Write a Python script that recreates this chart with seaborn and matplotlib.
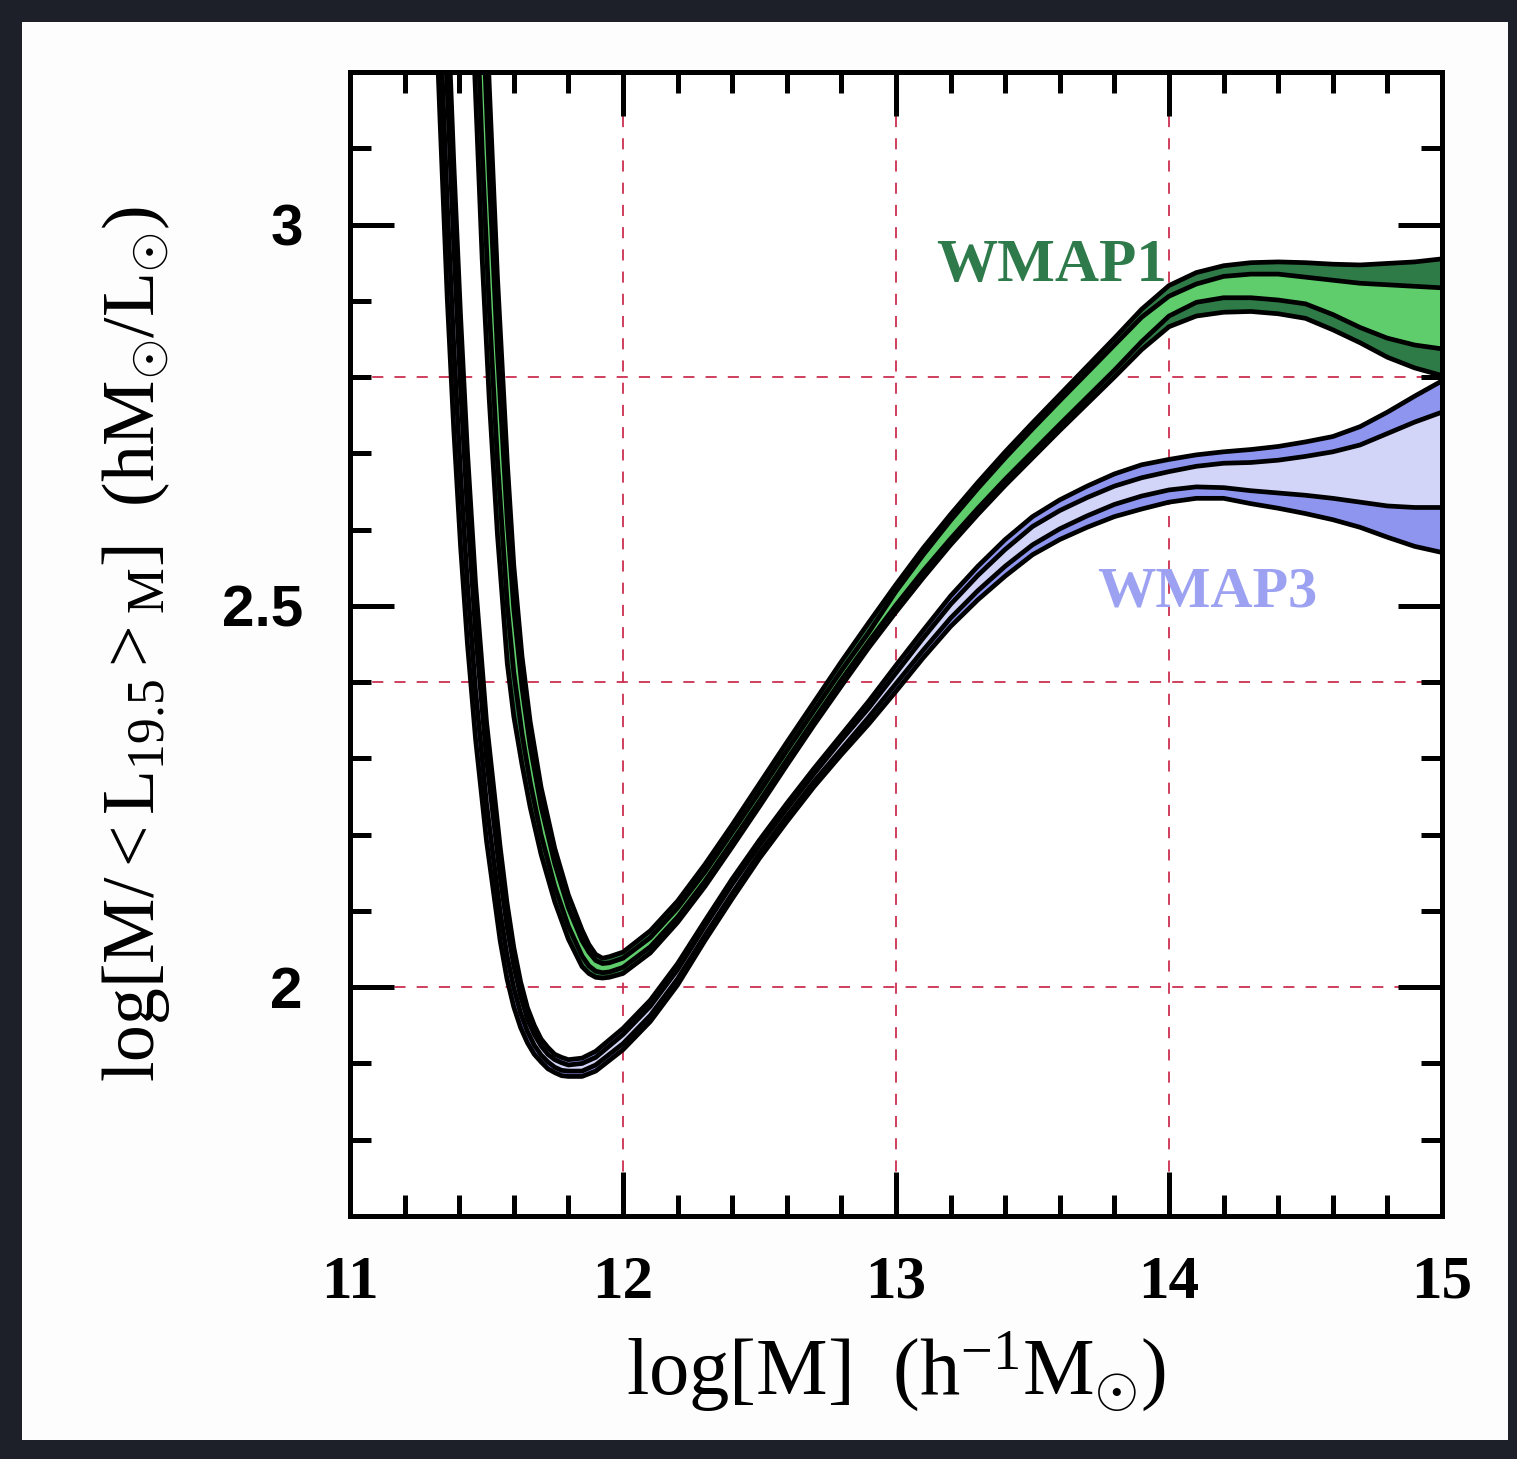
import numpy as np
import matplotlib
matplotlib.use("Agg")
import matplotlib.pyplot as plt
from matplotlib.patches import Rectangle
import seaborn as sns

# ---------------------------------------------------------------------------
# Mass-to-light ratio of haloes, log[M/<L_19.5>_M], versus halo mass log[M].
# Each cosmology has an outer (dark) and an inner (light) confidence band,
# given by four boundary curves sampled on a common mass grid.
# ---------------------------------------------------------------------------

# WMAP1 cosmology
wmap1_logm = [11.42, 11.45, 11.484, 11.51, 11.54, 11.576, 11.60, 11.63, 11.66,
              11.70, 11.75, 11.80, 11.85, 11.875, 11.90, 11.925, 11.95, 12.0,
              12.1, 12.2, 12.3, 12.4, 12.5, 12.6, 12.7, 12.8, 12.9, 13.0, 13.1,
              13.2, 13.3, 13.4, 13.5, 13.6, 13.7, 13.8, 13.9, 14.0, 14.1,
              14.2, 14.3, 14.4, 14.5, 14.6, 14.7, 14.8, 14.9, 15.0]
wmap1_outer_lo = [3.574, 3.259, 2.956, 2.771, 2.594, 2.425, 2.355, 2.292, 2.236,
                  2.174, 2.112, 2.063, 2.027, 2.018, 2.013, 2.012, 2.013, 2.018,
                  2.045, 2.085, 2.132, 2.184, 2.237, 2.291, 2.344, 2.395, 2.445, 2.492, 2.537,
                  2.580, 2.620, 2.658, 2.694, 2.730, 2.765, 2.800, 2.836, 2.866, 2.880,
                  2.885, 2.886, 2.883, 2.877, 2.862, 2.845, 2.826, 2.812, 2.802]
wmap1_inner_lo = [3.753, 3.422, 3.098, 2.890, 2.692, 2.502, 2.413, 2.333, 2.269,
                  2.200, 2.132, 2.080, 2.041, 2.028, 2.021, 2.019, 2.020, 2.026,
                  2.053, 2.092, 2.139, 2.191, 2.244, 2.298, 2.351, 2.403, 2.453, 2.501, 2.546,
                  2.588, 2.628, 2.666, 2.702, 2.738, 2.7735, 2.809, 2.8465, 2.880, 2.898,
                  2.904, 2.904, 2.901, 2.896, 2.882, 2.865, 2.851, 2.842, 2.837]
wmap1_inner_hi = [4.013, 3.658, 3.302, 3.064, 2.834, 2.612, 2.496, 2.393, 2.316,
                  2.237, 2.162, 2.104, 2.061, 2.046, 2.035, 2.031, 2.032, 2.038,
                  2.065, 2.104, 2.151, 2.203, 2.256, 2.310, 2.363, 2.415, 2.465, 2.519, 2.567,
                  2.612, 2.654, 2.694, 2.732, 2.769, 2.8055, 2.842, 2.8785, 2.906, 2.922,
                  2.932, 2.935, 2.935, 2.931, 2.927, 2.923, 2.921, 2.919, 2.917]
wmap1_outer_hi = [4.192, 3.821, 3.444, 3.183, 2.932, 2.689, 2.553, 2.434, 2.348,
                  2.262, 2.182, 2.121, 2.075, 2.056, 2.043, 2.038, 2.040, 2.046,
                  2.074, 2.113, 2.161, 2.213, 2.267, 2.321, 2.374, 2.427, 2.478, 2.528, 2.576,
                  2.620, 2.662, 2.702, 2.740, 2.777, 2.814, 2.851, 2.889, 2.920, 2.937,
                  2.946, 2.950, 2.951, 2.950, 2.948, 2.947, 2.949, 2.951, 2.955]

# WMAP3 cosmology
wmap3_logm = [11.30, 11.33, 11.356, 11.38, 11.405, 11.43, 11.46, 11.50, 11.55,
              11.575, 11.60, 11.625, 11.65, 11.675, 11.70, 11.725, 11.75, 11.775,
              11.80, 11.85, 11.90, 12.0, 12.1, 12.2, 12.3, 12.4, 12.5, 12.6, 12.7,
              12.8, 12.9, 13.0, 13.1, 13.2, 13.3, 13.4, 13.5, 13.6, 13.7, 13.8,
              13.9, 14.0, 14.1, 14.2, 14.3, 14.4, 14.5, 14.6, 14.7, 14.8, 14.9, 15.0]
wmap3_outer_lo = [3.414, 3.135, 2.905, 2.732, 2.578, 2.451, 2.325, 2.192, 2.061,
                  2.011, 1.974, 1.947, 1.927, 1.912, 1.902, 1.893, 1.888, 1.884,
                  1.883, 1.883, 1.890, 1.918, 1.955, 2.003, 2.061, 2.116, 2.169, 2.217, 2.263,
                  2.305, 2.345, 2.388, 2.432, 2.473, 2.508, 2.539, 2.567, 2.587, 2.603, 2.617,
                  2.627, 2.636, 2.641, 2.641, 2.634, 2.628, 2.621, 2.613, 2.603, 2.590, 2.578, 2.570]
wmap3_inner_lo = [3.547, 3.268, 3.030, 2.842, 2.673, 2.530, 2.389, 2.241, 2.099,
                  2.042, 1.999, 1.966, 1.942, 1.924, 1.911, 1.902, 1.895, 1.891,
                  1.890, 1.890, 1.898, 1.926, 1.963, 2.011, 2.068, 2.123, 2.176, 2.224, 2.270,
                  2.312, 2.354, 2.398, 2.442, 2.484, 2.520, 2.552, 2.580, 2.601, 2.618, 2.633,
                  2.644, 2.652, 2.656, 2.655, 2.651, 2.648, 2.645, 2.641, 2.636, 2.631, 2.629, 2.629]
wmap3_inner_hi = [3.703, 3.424, 3.178, 2.972, 2.785, 2.624, 2.465, 2.299, 2.145,
                  2.080, 2.028, 1.988, 1.958, 1.938, 1.923, 1.912, 1.905, 1.901,
                  1.898, 1.900, 1.908, 1.938, 1.975, 2.023, 2.080, 2.135, 2.186, 2.234, 2.280,
                  2.324, 2.366, 2.412, 2.458, 2.502, 2.540, 2.574, 2.604, 2.625, 2.642, 2.657,
                  2.668, 2.676, 2.683, 2.687, 2.688, 2.691, 2.696, 2.702, 2.711, 2.726, 2.741, 2.754]
wmap3_outer_hi = [3.836, 3.557, 3.303, 3.082, 2.880, 2.703, 2.529, 2.348, 2.184,
                  2.111, 2.052, 2.007, 1.973, 1.950, 1.932, 1.921, 1.912, 1.908,
                  1.905, 1.907, 1.916, 1.946, 1.983, 2.031, 2.087, 2.142, 2.193, 2.241, 2.287,
                  2.331, 2.375, 2.422, 2.468, 2.513, 2.552, 2.587, 2.617, 2.639, 2.657, 2.673,
                  2.685, 2.692, 2.698, 2.702, 2.705, 2.709, 2.715, 2.722, 2.735, 2.754, 2.775, 2.795]

x_ticks = [11, 12, 13, 14, 15]
x_ticklabels = ["11", "12", "13", "14", "15"]
y_ticks = [2.0, 2.5, 3.0]
y_ticklabels = ["2", "2.5", "3"]
grid_x = [12, 13, 14]
grid_y = [2.0, 2.4, 2.8]

# ---------------------------------------------------------------------------
sns.set_theme(style="ticks")
plt.rcParams["font.family"] = ["Liberation Serif", "DejaVu Serif"]
plt.rcParams["mathtext.fontset"] = "custom"
plt.rcParams["mathtext.rm"] = "Liberation Serif"
plt.rcParams["mathtext.it"] = "Liberation Serif:italic"
plt.rcParams["mathtext.bf"] = "Liberation Serif:bold"
plt.rcParams["lines.scale_dashes"] = False
for key in ("text.color", "axes.labelcolor", "xtick.color", "ytick.color",
            "axes.edgecolor"):
    plt.rcParams[key] = "black"

W, H, DPI = 1517, 1459, 100
fig = plt.figure(figsize=(W / DPI, H / DPI), dpi=DPI, facecolor="#1d2029")

# white card behind the plot
fig.patches.append(Rectangle((22 / W, 1 - 1440 / H), (1508 - 22) / W, (1440 - 22) / H,
                             transform=fig.transFigure, facecolor="#fdfdfd",
                             edgecolor="none", zorder=-5))

ax = fig.add_axes([350 / W, 1 - 1216 / H, (1442 - 350) / W, (1216 - 72) / H])
ax.set_facecolor("white")

# dashed reference grid
grid_kw = dict(color="#cc3050", lw=1.3, ls=(0, (8, 8)), zorder=0.5)
for gx in grid_x:
    ax.axvline(gx, **grid_kw)
for gy in grid_y:
    ax.axhline(gy, **grid_kw)

bands = [
    (wmap3_logm, wmap3_outer_lo, wmap3_inner_lo, wmap3_inner_hi, wmap3_outer_hi,
     "#8e95ef", "#d3d5f8"),
    (wmap1_logm, wmap1_outer_lo, wmap1_inner_lo, wmap1_inner_hi, wmap1_outer_hi,
     "#2f7b47", "#5fcd6b"),
]
for logm, olo, ilo, ihi, ohi, dark, light in bands:
    x = np.asarray(logm)
    ax.fill_between(x, olo, ilo, color=dark, lw=0, zorder=2)
    ax.fill_between(x, ilo, ihi, color=light, lw=0, zorder=2)
    ax.fill_between(x, ihi, ohi, color=dark, lw=0, zorder=2)
    for yb in (olo, ilo, ihi, ohi):
        sns.lineplot(x=x, y=yb, sort=False, estimator=None, color="black",
                     lw=3.4, ax=ax, zorder=3, legend=False,
                     solid_joinstyle="round", solid_capstyle="round")

ax.text(13.57, 2.946, "WMAP1", color="#2e7a4a", fontsize=44, fontweight="bold",
        family="Liberation Serif", ha="center", va="center", zorder=4)
ax.text(14.14, 2.518, "WMAP3", color="#9ca2f1", fontsize=42, fontweight="bold",
        family="Liberation Serif", ha="center", va="center", zorder=4)

ax.set_xlim(11, 15)
ax.set_ylim(1.7, 3.2)
ax.set_xticks(x_ticks)
ax.set_xticklabels(x_ticklabels)
ax.set_xticks(np.arange(11, 15.001, 0.2), minor=True)
ax.set_yticks(y_ticks)
ax.set_yticklabels(y_ticklabels)
ax.set_yticks(np.arange(1.7, 3.2001, 0.1), minor=True)

for side in ax.spines.values():
    side.set_linewidth(3.6)
    side.set_color("black")
    side.set_zorder(5)

ax.tick_params(which="both", direction="in", top=True, right=True,
               width=3.6, color="black", labelcolor="black", zorder=5)
ax.tick_params(which="major", length=32)
ax.tick_params(which="minor", length=15)
ax.tick_params(axis="x", which="major", pad=28)
ax.tick_params(axis="y", which="major", pad=34)

for lab in ax.get_xticklabels():
    lab.set_fontfamily("Liberation Serif")
    lab.set_fontweight("bold")
    lab.set_fontsize(44)
for lab in ax.get_yticklabels():
    lab.set_fontfamily("Liberation Sans")
    lab.set_fontweight("bold")
    lab.set_fontsize(42)

ax.set_xlabel(r"$\mathrm{log[M]\ \ (h^{-1}M_{\odot})}$", fontsize=58, labelpad=14,
              color="black")
ax.set_ylabel(r"$\mathrm{log[M/<L_{19.5}>_{M}]\ \ (hM_{\odot}/L_{\odot})}$",
              fontsize=53, labelpad=36, color="black")

fig.savefig("out.png", dpi=DPI, facecolor=fig.get_facecolor())
